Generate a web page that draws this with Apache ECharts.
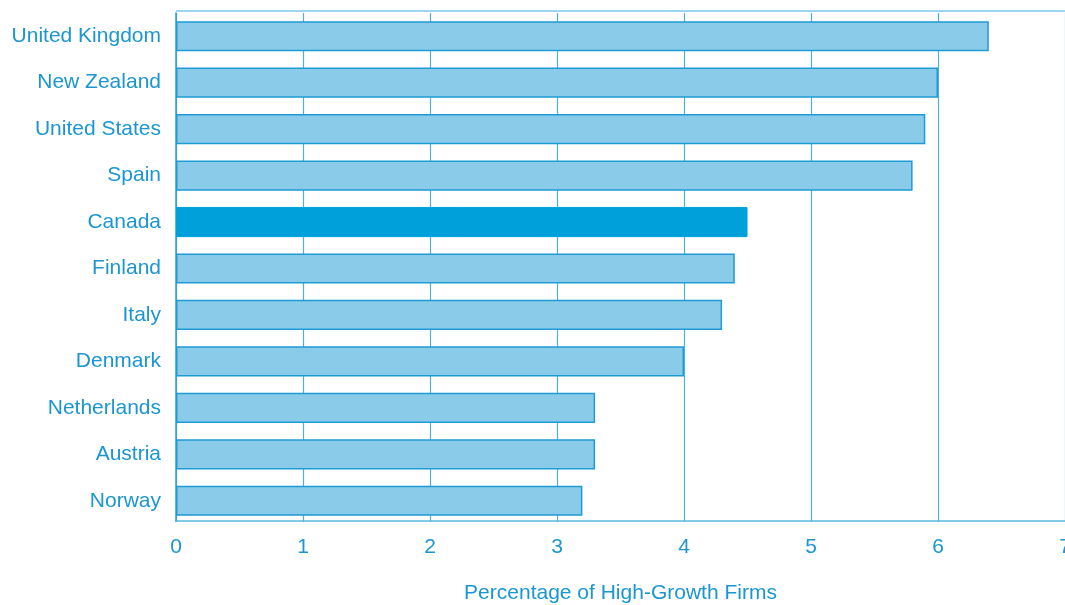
<!DOCTYPE html>
<html><head><meta charset="utf-8">
<script src="https://cdn.jsdelivr.net/npm/echarts@6/dist/echarts.min.js"></script>
<style>html,body{margin:0;padding:0;background:#fff;overflow:hidden}#c{width:1065px;height:605px}</style>
</head><body><div id="c"></div>
<script>
const categories = ["United Kingdom","New Zealand","United States","Spain","Canada","Finland","Italy","Denmark","Netherlands","Austria","Norway"];
const values = [6.4, 6.0, 5.9, 5.8, 4.5, 4.4, 4.3, 4.0, 3.3, 3.3, 3.2];
const highlight = "Canada";
const xTicks = [0,1,2,3,4,5,6,7];

const txt = '#1b96d2';
const font = 'Liberation Sans, Arial, sans-serif';
const chart = echarts.init(document.getElementById('c'));
const cats = categories.slice().reverse();
chart.setOption({
  animation:false,
  grid:{left:176, right:0, top:13, bottom:81, containLabel:false, outerBoundsMode:'none'},
  xAxis:{type:'value', min:xTicks[0], max:xTicks[xTicks.length-1], interval:1, offset:-3,
    name:'Percentage of High-Growth Firms', nameLocation:'middle', nameGap:62,
    nameTextStyle:{color:txt, fontSize:21, fontFamily:font},
    axisLine:{show:true, lineStyle:{color:'#5bb8e2', width:1.5}},
    axisTick:{show:false},
    axisLabel:{color:txt, fontSize:21, margin:16, fontFamily:font, formatter:v=>String(v)},
    splitLine:{show:true, lineStyle:{color:'#4fb0de', width:1.2}}
  },
  yAxis:{type:'category', data:cats,
    axisLine:{show:true, lineStyle:{color:'#2a9fd6', width:1.5}},
    axisTick:{show:false},
    axisLabel:{color:txt, fontSize:21, margin:15, fontFamily:font, padding:[5,0,0,0]},
    splitLine:{show:false}
  },
  series:[{type:'bar', barWidth:'65%',
    data: values.slice().reverse().map((v,i)=>{
      return cats[i]===highlight
        ? {value:v, itemStyle:{color:'#00a1db', borderColor:'#00a1db', borderWidth:1}}
        : {value:v, itemStyle:{color:'#8acbea', borderColor:'#1f9bd4', borderWidth:1.5}};
    })
  }],
  graphic:[
    {type:'line', shape:{x1:176, y1:11, x2:1065, y2:11}, style:{stroke:'#7cc6e8', lineWidth:1.5}},
    {type:'rect', shape:{x:175, y:522, width:890, height:4}, style:{fill:'#fff'}, z:10}
  ]
});
</script></body></html>
